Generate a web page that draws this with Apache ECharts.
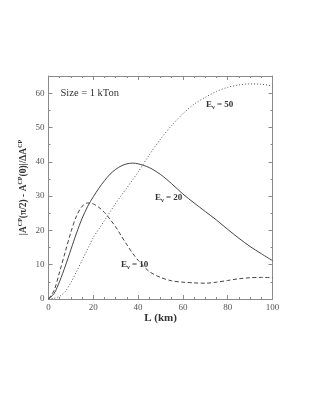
<!DOCTYPE html>
<html>
<head>
<meta charset="utf-8">
<style>
html,body{margin:0;padding:0;background:#fff;}
#c{width:316px;height:409px;}
</style>
<script src="https://cdn.jsdelivr.net/npm/echarts@6/dist/echarts.min.js"></script>
</head>
<body>
<div id="c"></div>
<script>
// Distance L (km)
var L = [0, 2.5, 5, 7.5, 10, 12.5, 15, 17.5, 20, 22.5, 25, 27.5, 30, 32.5, 35, 37.5, 40,
         45, 50, 55, 60, 65, 70, 75, 80, 85, 90, 95, 100];
// E_nu = 10 (dashed)
var e10 = [0, 2.5, 8.0, 13.8, 19.5, 24.2, 27.0, 28.0, 27.7, 26.7, 25.2, 23.2, 21.0, 18.4, 15.8, 13.4, 11.3,
           8.0, 6.3, 5.3, 4.9, 4.7, 4.6, 4.9, 5.4, 5.9, 6.2, 6.3, 6.2];
// E_nu = 20 (solid)
var e20 = [0, 1.6, 5.2, 9.6, 14.4, 19.2, 23.5, 27.0, 29.8, 32.3, 34.5, 36.4, 37.8, 38.8, 39.4, 39.6, 39.4,
           38.3, 36.3, 33.6, 30.6, 28.0, 25.5, 23.0, 20.3, 17.7, 15.3, 13.2, 11.2];
// E_nu = 50 (dotted)
var e50 = [0, 0.2, 0.8, 2.2, 4.8, 8.0, 11.3, 14.6, 17.9, 20.4, 22.9, 25.4, 27.9, 30.2, 32.4, 34.7, 37.0,
           42.0, 46.6, 50.6, 54.0, 56.8, 58.8, 60.5, 61.7, 62.4, 62.7, 62.6, 62.1];
var xTicks = [0, 20, 40, 60, 80, 100];
var yTicks = [0, 10, 20, 30, 40, 50, 60];

function pairs(v){ return L.map(function(x,i){ return [x, v[i]]; }); }

var serif = 'Liberation Serif';
var axisCol = '#8a8a8a';
var lineCol = '#444';

function mkX(pos, showLabel){
  return {
    type:'value', position:pos, min:0, max:100, interval:20,
    axisLine:{show:true, onZero:false, lineStyle:{color:axisCol, width:1}},
    axisTick:{show:true, inside:true, length:4, lineStyle:{color:axisCol}},
    minorTick:{show:true, splitNumber:4, length:2, lineStyle:{color:axisCol}},
    splitLine:{show:false},
    axisLabel:{show:showLabel, fontFamily:serif, fontSize:9, color:'#555', margin:4,
      formatter:function(v){ return xTicks.indexOf(v) >= 0 ? String(v) : ''; }}
  };
}
function mkY(pos, showLabel){
  return {
    type:'value', position:pos, min:0, max:65, interval:10,
    axisLine:{show:true, onZero:false, lineStyle:{color:axisCol, width:1}},
    axisTick:{show:true, inside:true, length:4, lineStyle:{color:axisCol}},
    minorTick:{show:true, splitNumber:2, length:2, lineStyle:{color:axisCol}},
    splitLine:{show:false},
    axisLabel:{show:showLabel, fontFamily:serif, fontSize:9, color:'#555', margin:4, showMaxLabel:false,
      formatter:function(v){ return yTicks.indexOf(v) >= 0 ? String(v) : ''; }}
  };
}

var xa = mkX('bottom', true);
xa.name = 'L (km)';
xa.nameLocation = 'middle';
xa.nameGap = 14;
xa.nameMoveOverlap = false;
xa.nameTextStyle = {fontFamily:serif, fontSize:11, fontWeight:'bold', color:'#333'};

var ya = mkY('left', true);
ya.name = '|A{s|CP}(π/2) - A{s|CP}(0)|/ΔA{s|CP}';
ya.nameLocation = 'middle';
ya.nameGap = 18;
ya.nameRotate = 90;
ya.nameMoveOverlap = false;
ya.nameTextStyle = {fontFamily:serif, fontSize:9.5, fontWeight:'bold', color:'#333', lineHeight:13, verticalAlign:'bottom',
  rich:{ s:{fontFamily:serif, fontSize:6, fontWeight:'bold', color:'#333', verticalAlign:'top', lineHeight:13} }};

function lbl(txt){
  return '{b|E}{s|ν}{b| = ' + txt + '}';
}
var labRich = {
  b:{fontFamily:serif, fontSize:9, fontWeight:'bold', fill:'#333', lineHeight:12, verticalAlign:'middle'},
  s:{fontFamily:serif, fontSize:6, fontWeight:'bold', fill:'#333', lineHeight:12, verticalAlign:'bottom'}
};

var chart = echarts.init(document.getElementById('c'), null, {renderer:'canvas'});
chart.setOption({
  backgroundColor:'#fff',
  animation:false,
  grid:{left:48.5, right:43.5, top:76, bottom:110, containLabel:false},
  xAxis:[xa, mkX('top', false)],
  yAxis:[ya, mkY('right', false)],
  series:[
    {type:'line', name:'E10', data:pairs(e10), smooth:0.3, showSymbol:false, xAxisIndex:0, yAxisIndex:0,
      lineStyle:{color:lineCol, width:1, type:[4,2.5]}},
    {type:'line', name:'E20', data:pairs(e20), smooth:0.3, showSymbol:false, xAxisIndex:0, yAxisIndex:0,
      lineStyle:{color:lineCol, width:1, type:'solid'}},
    {type:'line', name:'E50', data:pairs(e50), smooth:0.3, showSymbol:false, xAxisIndex:0, yAxisIndex:0,
      lineStyle:{color:'#555', width:1, type:[1,2]}}
  ],
  graphic:[
    {type:'text', left:60.5, top:88, style:{text:'Size = 1 kTon', fontFamily:serif, fontSize:10.5, fill:'#333'}},
    {type:'text', left:206, top:100, style:{text:lbl('50'), rich:labRich}},
    {type:'text', left:155, top:193, style:{text:lbl('20'), rich:labRich}},
    {type:'text', left:121, top:260, style:{text:lbl('10'), rich:labRich}}
  ]
});
</script>
</body>
</html>
